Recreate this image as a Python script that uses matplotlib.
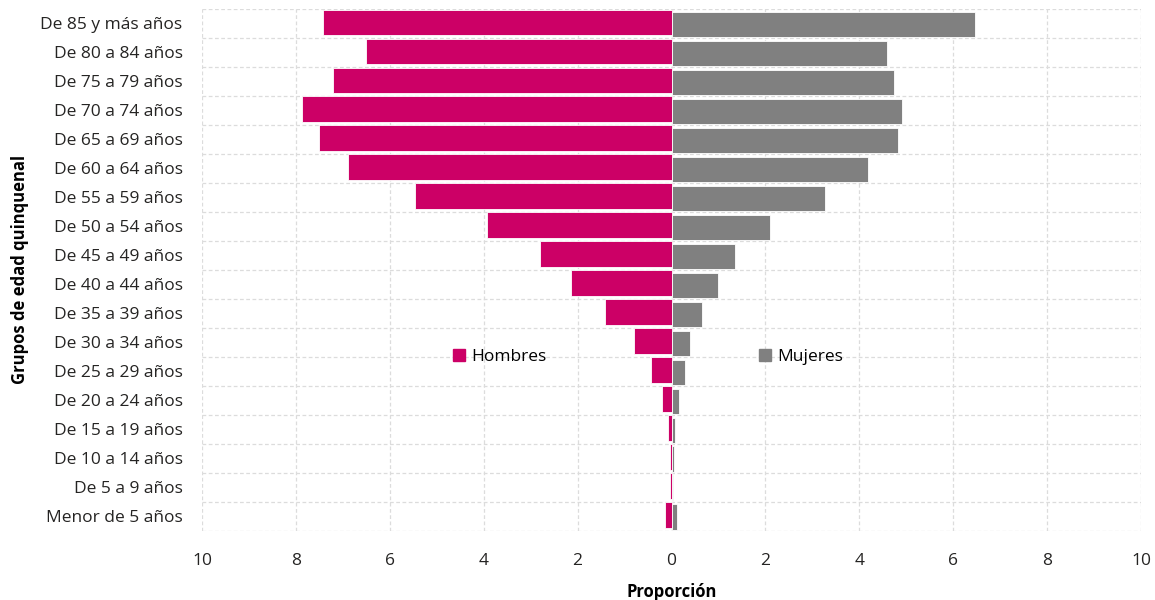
import numpy as np
import matplotlib.pyplot as plt
from matplotlib.patches import Patch

plt.rcParams['font.family'] = ['Open Sans', 'DejaVu Sans']

grupos = ["Menor de 5 años", "De 5 a 9 años", "De 10 a 14 años", "De 15 a 19 años",
          "De 20 a 24 años", "De 25 a 29 años", "De 30 a 34 años", "De 35 a 39 años",
          "De 40 a 44 años", "De 45 a 49 años", "De 50 a 54 años", "De 55 a 59 años",
          "De 60 a 64 años", "De 65 a 69 años", "De 70 a 74 años", "De 75 a 79 años",
          "De 80 a 84 años", "De 85 y más años"]
hombres = [0.13, 0.03, 0.04, 0.08, 0.21, 0.43, 0.79, 1.41, 2.15, 2.81,
           3.92, 5.47, 6.88, 7.50, 7.88, 7.22, 6.50, 7.43]
mujeres = [0.11, 0.03, 0.05, 0.07, 0.17, 0.29, 0.39, 0.64, 0.99, 1.35,
           2.10, 3.27, 4.19, 4.83, 4.90, 4.73, 4.60, 6.46]
xticks = [-10, -8, -6, -4, -2, 0, 2, 4, 6, 8, 10]

col_h = "#CC0066"
col_m = "#808080"
fs = 12.5

fig = plt.figure(figsize=(11.55, 6.0), dpi=100)
ax = fig.add_axes([0.1749, 0.1158, 0.8130, 0.8692])

y = np.arange(len(grupos))
ax.barh(y + 0.04, -np.array(hombres), height=0.88, color=col_h,
        edgecolor="white", linewidth=0.6, zorder=3)
ax.barh(y - 0.04, mujeres, height=0.88, color=col_m,
        edgecolor="white", linewidth=0.6, zorder=3)

ax.set_xlim(-10, 10)
ax.set_ylim(-0.5, len(grupos) - 0.5)
ax.set_xticks(xticks)
ax.set_xticklabels([str(abs(t)) for t in xticks], fontsize=fs, color="#252423")
ax.set_yticks(y)
ax.set_yticklabels(grupos, fontsize=fs, color="#252423")
ax.set_yticks(np.arange(len(grupos) + 1) - 0.5, minor=True)
ax.tick_params(axis="both", which="both", length=0)
ax.tick_params(axis="y", pad=14)
ax.tick_params(axis="x", pad=16)

ax.grid(axis="x", which="major", color="#dcdcdc", linestyle=(0, (3, 2)), linewidth=0.9, zorder=0)
ax.grid(axis="y", which="minor", color="#dcdcdc", linestyle=(0, (3, 2)), linewidth=0.9, zorder=0)
for s in ax.spines.values():
    s.set_visible(False)

ax.set_xlabel("Proporción", fontsize=12, fontweight="bold", labelpad=10)
ax.set_ylabel("Grupos de edad quinquenal", fontsize=12, fontweight="bold", labelpad=8)

leg1 = ax.legend(handles=[Patch(color=col_h, label="Hombres")], loc="center left",
                 bbox_to_anchor=(-4.65, 5.5), bbox_transform=ax.transData,
                 frameon=False, fontsize=fs, handlelength=0.7, handleheight=0.7,
                 handletextpad=0.35, borderpad=0, borderaxespad=0)
ax.add_artist(leg1)
ax.legend(handles=[Patch(color=col_m, label="Mujeres")], loc="center left",
          bbox_to_anchor=(1.86, 5.5), bbox_transform=ax.transData,
          frameon=False, fontsize=fs, handlelength=0.7, handleheight=0.7,
          handletextpad=0.35, borderpad=0, borderaxespad=0)

fig.savefig("out.png", dpi=100)
